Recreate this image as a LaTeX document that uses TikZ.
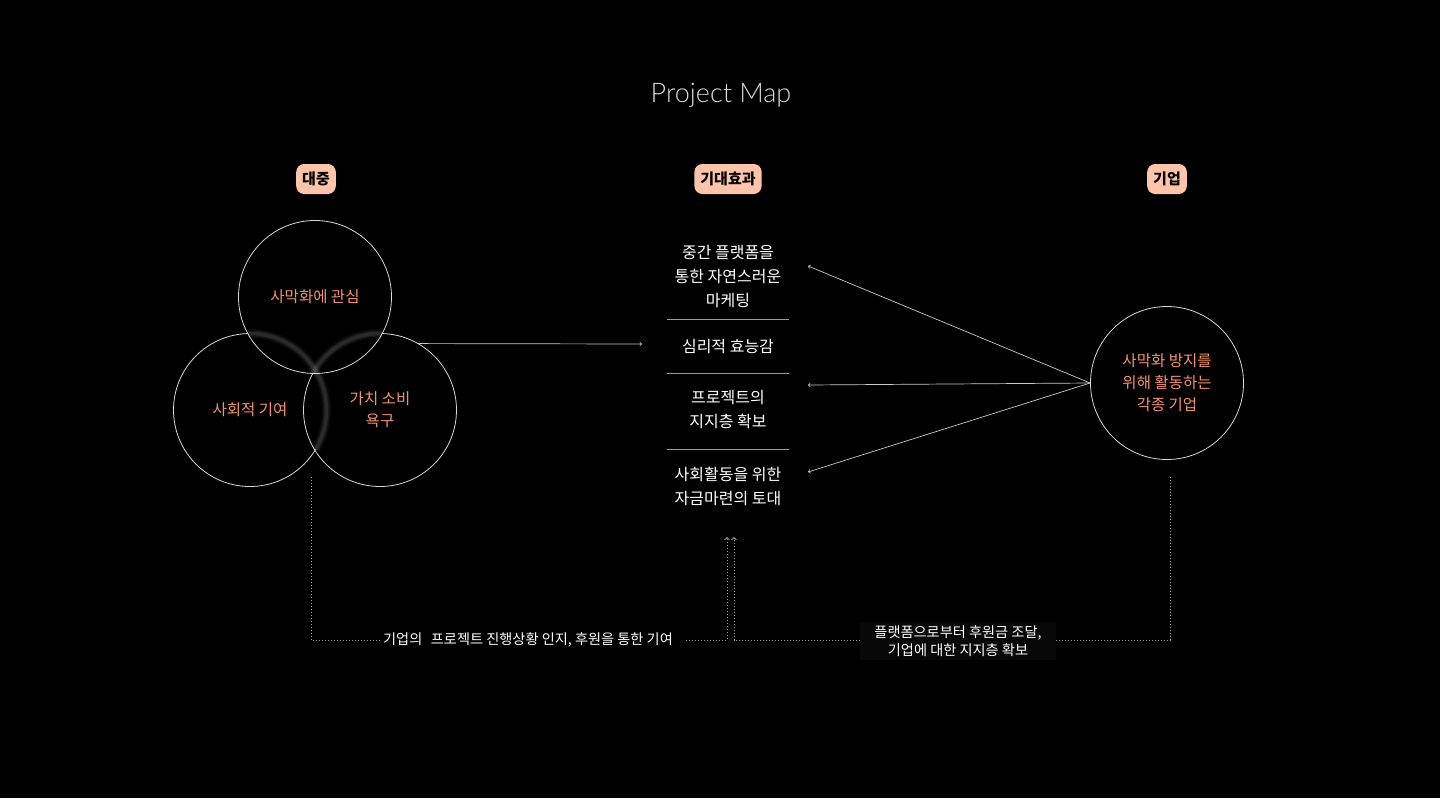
\documentclass[tikz,border=0pt]{standalone}
\usepackage{fontspec}
\setmainfont{Noto Sans CJK KR}
\newfontfamily\titlefont{Lato Light}
\usetikzlibrary{arrows,calc,positioning}
\definecolor{peach}{HTML}{FFC4A9}
\definecolor{coral}{HTML}{F4936B}
\definecolor{rulec}{HTML}{C8906F}
\definecolor{dim}{HTML}{9C9C9C}
\definecolor{notebg}{HTML}{080808}
\tikzset{
  badge/.style={fill=peach, rounded corners=8pt, text=black, inner xsep=6pt,
    minimum height=30pt, font=\bfseries\fontsize{15}{17}\selectfont},
  ringtext/.style={circle, minimum size=153pt, inner sep=0pt, text=coral,
    align=center, font=\fontsize{15.5}{22}\selectfont},
  ring/.style={ringtext, draw=white!85!black, line width=0.8pt},
  edge/.style={draw=white!85!black, line width=0.8pt},
  glow/.style={draw=white, line width=7pt, opacity=0.07},
  item/.style={text=white, align=center, font=\fontsize{16}{24}\selectfont},
  sep/.style={draw=rulec, line width=1pt},
  link/.style={->, >=to, draw=white!80!black, line width=0.7pt},
  trail/.style={dotted, draw=dim, line width=1pt, >=to},
  note/.style={text=white, align=center, font=\fontsize{14.2}{18}\selectfont}
}
\begin{document}
\begin{tikzpicture}[x=1pt,y=-1pt]
\fill (0,0) rectangle (1440,798);
\useasboundingbox (0,0) rectangle (1440,798);
\node[text=white!85!black, font=\titlefont\fontsize{27}{30}\selectfont] (title) at (721,95) {Project Map};
% badges
\node[badge] (crowd) at (316,179) {대중};
\node[badge] (effect) at (728,179) {기대효과};
\node[badge] (firms) at (1167,179) {기업};
% three circles
\node[ring] (interest) at (315,297) {사막화에 관심};
\node[ringtext] (social) at (250,410) {사회적 기여};
\node[ringtext] (value) at (380,410) {가치 소비\\욕구};
\draw[edge] (social.center) ++(31:76.5) arc[start angle=31, end angle=268.4, radius=76.5];
\draw[edge] (value.center) ++(-88.4:76.5) arc[start angle=-88.4, end angle=208.6, radius=76.5];
\foreach \w/\o in {9/0.04, 6/0.06, 3.5/0.08}{
  \draw[glow, line width=\w pt, opacity=\o] (social.center) ++(-91.6:76.5) arc[start angle=-91.6, end angle=31, radius=76.5];
  \draw[glow, line width=\w pt, opacity=\o] (value.center) ++(-88.4:76.5) arc[start angle=-88.4, end angle=-151.4, radius=76.5];
}
% expected effects
\node[item] (m1) at (728,277) {중간 플랫폼을\\통한 자연스러운\\마케팅};
\node[item] (m2) at (728,347) {심리적 효능감};
\node[item] (m3) at (728,410) {프로젝트의\\지지층 확보};
\node[item] (m4) at (728,486) {사회활동을 위한\\자금마련의 토대};
\draw[sep] (667,319) -- (789,319) (667,373) -- (789,373) (667,449) -- (789,449);
% company circle
\node[ring] (company) at (1167,383) {사막화 방지를\\위해 활동하는\\각종 기업};
\coordinate (in) at (642,344);
\coordinate (t1) at (808,266);
\coordinate (t2) at (808,385);
\coordinate (t3) at (808,472);
\draw[link] (value.60) -- (in);
\draw[link] (company.west) -- (t1);
\draw[link] (company.west) -- (t2);
\draw[link] (company.west) -- (t3);
% feedback loops
\coordinate (p1) at (311,477);
\coordinate (p2) at (1170,477);
\coordinate (up1) at (727,537);
\coordinate (up2) at (734,537);
\node[note, inner xsep=3pt] (n1) at (528,640) {기업의\hspace{0.6em}프로젝트 진행상황 인지, 후원을 통한 기여};
\node[note, fill=notebg, inner xsep=14pt, inner ysep=4pt] (n2) at (958,641) {플랫폼으로부터 후원금 조달,\\기업에 대한 지지층 확보};
\draw[trail] (p1) |- (n1.west);
\draw[trail,->] ($(n1.east)+(10,0)$) -| (up1);
\draw[trail,->] (n2.west |- 0,640) -| (up2);
\draw[trail] (n2.east |- 0,640) -| (p2);
\end{tikzpicture}
\end{document}
